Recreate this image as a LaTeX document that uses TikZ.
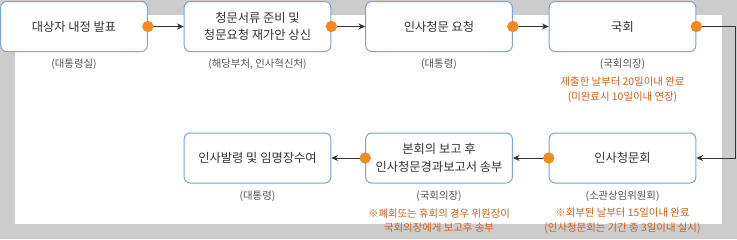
\documentclass[tikz,border=0pt]{standalone}
\usepackage{fontspec}
\setmainfont{Noto Sans CJK KR}
\usetikzlibrary{arrows.meta}
\definecolor{frame}{HTML}{CCCCCC}
\definecolor{bord}{HTML}{7FA3D6}
\definecolor{dotc}{HTML}{F28A22}
\definecolor{orng}{HTML}{D2611C}
\definecolor{gtext}{HTML}{555555}
\definecolor{btext}{HTML}{333333}
\begin{document}
\begin{tikzpicture}[x=0.75pt,y=-0.75pt,
  stepbox/.style={draw=bord,line width=0.75pt,fill=white,rounded corners=4.5pt,minimum width=110pt,minimum height=37.5pt,align=center,font=\fontsize{9.2}{13}\selectfont,text=btext,inner sep=0pt},
  sub/.style={font=\fontsize{7.8}{11}\selectfont,text=gtext,inner sep=0pt},
  note/.style={font=\fontsize{7.8}{11}\selectfont,text=orng,inner sep=0pt,align=center},
  arr/.style={draw=btext,line width=0.75pt,-{Stealth[length=5pt,width=4.5pt]}},
  dotm/.style={circle,fill=dotc,minimum size=8.5pt,inner sep=0pt}]
\useasboundingbox (0,0) rectangle (737,239);
\fill[frame] (0,0) rectangle (737,239);
\fill[white] (15,15) rectangle (722,224);
% row 1
\node[stepbox] (b1) at (74,26.5) {대상자 내정 발표};
\node[stepbox] (b2) at (257.5,26.5) {청문서류 준비 및\\청문요청 재가안 상신};
\node[stepbox] (b3) at (439,26.5) {인사청문 요청};
\node[stepbox] (b4) at (622.5,26.5) {국회};
% row 2
\node[stepbox] (b5) at (257.5,158) {인사발령 및 임명장수여};
\node[stepbox] (b6) at (439,158) {본회의 보고 후\\인사청문경과보고서 송부};
\node[stepbox] (b7) at (622.5,158) {인사청문회};
% labels
\node[sub] (l1) at (74,64) {(대통령실)};
\node[sub] (l2) at (257.5,64) {(해당부처, 인사혁신처)};
\node[sub] (l3) at (439,64) {(대통령)};
\node[sub] (l4) at (622.5,64) {(국회의장)};
\node[note] (n4) at (622.5,89.5) {제출한 날부터 20일이내 완료\\(미완료시 10일이내 연장)};
\node[sub] (l5) at (257.5,196) {(대통령)};
\node[sub] (l6) at (439,196) {(국회의장)};
\node[note] (n6) at (439,220.5) {※폐회또는 휴회의 경우 위원장이\\국회의장에게 보고후 송부};
\node[sub] (l7) at (622.5,196) {(소관상임위원회)};
\node[note] (n7) at (622.5,220.5) {※회부된 날부터 15일이내 완료\\(인사청문회는 기간 중 3일이내 실시)};
% connectors
\coordinate (c1) at (735,26.5);
\draw[arr] (b1.east) -- (b2.west);
\draw[arr] (b2.east) -- (b3.west);
\draw[arr] (b3.east) -- (b4.west);
\draw[arr] (b4.east) -- (c1) |- (b7.east);
\draw[arr] (b7.west) -- (b6.east);
\draw[arr] (b6.west) -- (b5.east);
% dots
\node[dotm] (d1) at (b1.east) {};
\node[dotm] (d2) at (b2.east) {};
\node[dotm] (d3) at (b3.east) {};
\node[dotm] (d4) at (b4.east) {};
\node[dotm] (d7) at (b7.west) {};
\node[dotm] (d6) at (b6.west) {};
\end{tikzpicture}
\end{document}
